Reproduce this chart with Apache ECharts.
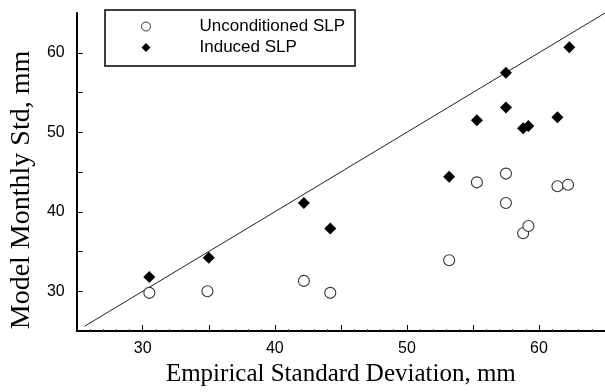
<!DOCTYPE html>
<html>
<head>
<meta charset="utf-8">
<script src="https://cdn.jsdelivr.net/npm/echarts@6/dist/echarts.min.js"></script>
<style>
html,body{margin:0;padding:0;background:#fff;}
#chart{width:605px;height:392px;}
</style>
</head>
<body>
<div id="chart"></div>
<script>
// Data
const unconditionedX = [30.5, 34.9, 42.2, 44.2, 53.2, 55.3, 57.5, 57.5, 58.8, 59.2, 61.4, 62.2];
const unconditionedY = [29.8, 30.0, 31.3, 29.8, 33.9, 43.7, 44.8, 41.1, 37.3, 38.2, 43.2, 43.4];
const inducedX = [30.5, 35.0, 42.2, 44.2, 53.2, 55.3, 57.5, 57.5, 58.8, 59.2, 61.4, 62.3];
const inducedY = [31.8, 34.2, 41.1, 37.9, 44.4, 51.5, 57.5, 53.1, 50.5, 50.8, 51.9, 60.7];
const identityLine = [25.6, 65];           // 1:1 reference line end points (x = y)
const labeledTicks = [30, 40, 50, 60];
const seriesNames = ['Unconditioned SLP', 'Induced SLP'];
const xTitle = 'Empirical Standard Deviation, mm';
const yTitle = 'Model Monthly Std, mm';

const pairs = (xs, ys) => xs.map((x, i) => [x, ys[i]]);

const chart = echarts.init(document.getElementById('chart'), null, {renderer: 'canvas'});

const axisCommon = {
  type: 'value',
  min: 25, max: 65, interval: 5,
  splitLine: {show: false},
  axisLine: {show: true, onZero: false, lineStyle: {color: '#000', width: 2}},
  axisTick: {show: true, inside: true, length: 6, lineStyle: {color: '#000', width: 1}},
  axisLabel: {
    fontFamily: "'Liberation Sans', Arial, sans-serif",
    fontSize: 16, color: '#000',
    showMinLabel: false, showMaxLabel: false,
    formatter: v => labeledTicks.includes(v) ? String(v) : ''
  },
  nameLocation: 'middle'
};

chart.setOption({
  backgroundColor: '#fff',
  animation: false,
  grid: {left: 65, right: 0, top: 13, bottom: 61, containLabel: false},
  legend: {
    data: seriesNames,
    orient: 'vertical',
    left: 105, top: 10,
    borderColor: '#000', borderWidth: 1.5,
    padding: [6, 10, 8, 36],
    itemGap: 0,
    itemWidth: 9, itemHeight: 9,
    itemStyle: {borderWidth: 1},
    textStyle: {
      fontFamily: "'Liberation Sans', Arial, sans-serif",
      fontSize: 17, color: '#000', lineHeight: 21,
      padding: [0, 0, 0, 44]
    }
  },
  xAxis: Object.assign({}, axisCommon, {
    name: xTitle, nameGap: 29,
    nameTextStyle: {fontFamily: "'Liberation Serif', 'Times New Roman', serif", fontSize: 25, color: '#000'},
    axisLabel: Object.assign({}, axisCommon.axisLabel, {margin: 10}),
    minorTick: {show: true, splitNumber: 5, length: 2, lineStyle: {color: '#555', width: 1}}
  }),
  yAxis: Object.assign({}, axisCommon, {
    name: yTitle, nameGap: 27, nameRotate: 90,
    nameTextStyle: {fontFamily: "'Liberation Serif', 'Times New Roman', serif", fontSize: 28, color: '#000', padding: [0, 36, 0, 0]},
    axisLabel: Object.assign({}, axisCommon.axisLabel, {margin: 12})
  }),
  series: [
    {
      name: 'identity', type: 'line',
      data: identityLine.map(v => [v, v]),
      symbol: 'none', silent: true,
      lineStyle: {color: '#222', width: 1},
      z: 1
    },
    {
      name: seriesNames[0], type: 'scatter',
      data: pairs(unconditionedX, unconditionedY),
      symbol: 'circle', symbolSize: 11,
      itemStyle: {color: '#fff', borderColor: '#333', borderWidth: 1.1, opacity: 1},
      z: 3
    },
    {
      name: seriesNames[1], type: 'scatter',
      data: pairs(inducedX, inducedY),
      symbol: 'diamond', symbolSize: 12,
      itemStyle: {color: '#000', opacity: 1},
      z: 4
    }
  ]
});
</script>
</body>
</html>
